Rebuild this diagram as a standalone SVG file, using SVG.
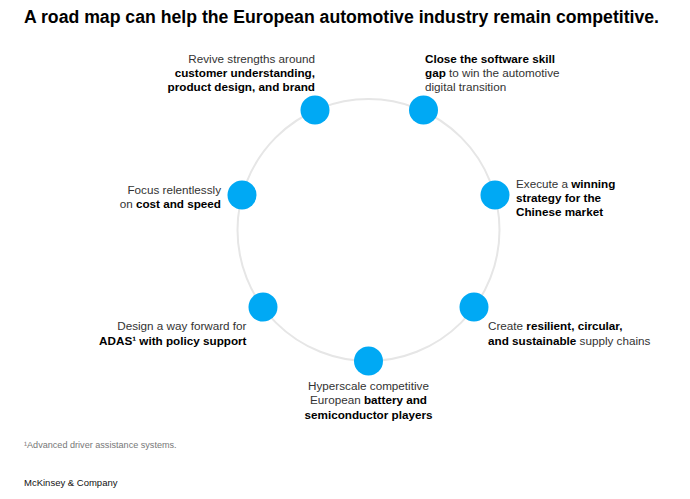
<svg xmlns="http://www.w3.org/2000/svg" width="690" height="499" viewBox="0 0 690 499">
<style>
text{font-family:"Liberation Sans",Arial,sans-serif;font-size:11.7px;fill:#333}
.b{font-weight:bold;fill:#000}
.title{font-size:17.5px;font-weight:bold;fill:#000}
.node{fill:#00a9f4}
.ring{fill:none;stroke:#e6e6e6;stroke-width:2}
.fn{font-size:9.1px;fill:#777}
.logo{font-size:9.5px;fill:#111}
</style>
<rect width="690" height="499" fill="#fff"/>
<text class="title" x="24" y="23" textLength="635" lengthAdjust="spacingAndGlyphs">A road map can help the European automotive industry remain competitive.</text>
<g id="connectors">
<circle class="ring" cx="368.5" cy="230" r="131"/>
</g>
<g id="node1">
<circle class="node" cx="315" cy="110" r="14.5"/>
<text x="315" y="62.5" text-anchor="end">Revive strengths around</text>
<text x="315" y="76.5" text-anchor="end" class="b">customer understanding,</text>
<text x="315" y="90.5" text-anchor="end" class="b">product design, and brand</text>
</g>
<g id="node2">
<circle class="node" cx="423.5" cy="110" r="14.5"/>
<text x="425" y="62.5"><tspan class="b">Close the software skill</tspan></text>
<text x="425" y="76.5"><tspan class="b">gap</tspan> to win the automotive</text>
<text x="425" y="90.5">digital transition</text>
</g>
<g id="node3">
<circle class="node" cx="495" cy="195" r="14.5"/>
<text x="516" y="187.5">Execute a <tspan class="b">winning</tspan></text>
<text x="516" y="201.5" class="b">strategy for the</text>
<text x="516" y="215.5" class="b">Chinese market</text>
</g>
<g id="node4">
<circle class="node" cx="474" cy="307" r="14.5"/>
<text x="488" y="330">Create <tspan class="b">resilient, circular,</tspan></text>
<text x="488" y="344.5"><tspan class="b">and sustainable</tspan> supply chains</text>
</g>
<g id="node5">
<circle class="node" cx="368.5" cy="361" r="14.5"/>
<text x="368.5" y="389.5" text-anchor="middle">Hyperscale competitive</text>
<text x="368.5" y="404" text-anchor="middle">European <tspan class="b">battery and</tspan></text>
<text x="368.5" y="418.5" text-anchor="middle" class="b">semiconductor players</text>
</g>
<g id="node6">
<circle class="node" cx="263" cy="307" r="14.5"/>
<text x="246.5" y="330" text-anchor="end">Design a way forward for</text>
<text x="246.5" y="344.5" text-anchor="end" class="b">ADAS¹ with policy support</text>
</g>
<g id="node7">
<circle class="node" cx="242" cy="195" r="14.5"/>
<text x="221" y="193.5" text-anchor="end">Focus relentlessly</text>
<text x="221" y="207.5" text-anchor="end">on <tspan class="b">cost and speed</tspan></text>
</g>
<text class="fn" x="24" y="448">¹Advanced driver assistance systems.</text>
<text class="logo" x="24" y="486">McKinsey &amp; Company</text>
</svg>
